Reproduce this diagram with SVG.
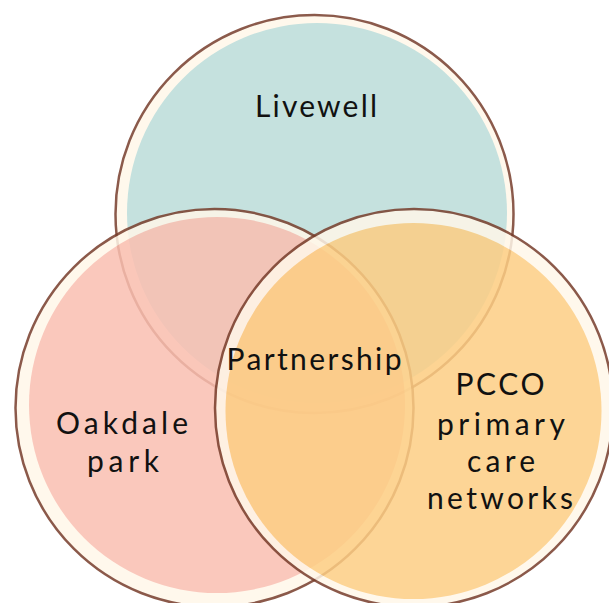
<svg xmlns="http://www.w3.org/2000/svg" width="609" height="603" viewBox="0 0 609 603">
  <style>
    .ring { fill: #fff7e9; stroke: #773d2b; stroke-width: 2.5; }
    .set { opacity: 0.85; }
    .label { font-family: "Lato", "Noto Sans", sans-serif; font-size: 30px; fill: #111; }
  </style>
  <rect width="609" height="603" fill="#ffffff"/>
  <g id="connectors"/>
  <!-- Livewell (top) -->
  <g id="livewell">
    <circle cx="314.5" cy="214" r="199" fill="#fff8ec" stroke="#8b5a4b" stroke-width="2.5"/>
    <circle cx="317" cy="213" r="190" fill="#c5e1de"/>
  </g>
  <!-- Oakdale park (lower left) -->
  <g id="oakdale" class="set">
    <circle class="ring" cx="214.5" cy="408" r="199"/>
    <circle cx="217" cy="405" r="188" fill="#fabfb1"/>
  </g>
  <!-- PCCO primary care networks (lower right) -->
  <g id="pcco" class="set">
    <circle class="ring" cx="414" cy="408" r="199"/>
    <circle cx="413.5" cy="411" r="188" fill="#fdce84"/>
  </g>
  <!-- Labels -->
  <g id="labels">
    <text class="label" x="316" y="117" text-anchor="middle" textLength="122" lengthAdjust="spacing">Livewell</text>
    <text class="label" x="314" y="370" text-anchor="middle" textLength="175" lengthAdjust="spacing">Partnership</text>
    <text class="label" x="122" y="434" text-anchor="middle" textLength="132" lengthAdjust="spacing">Oakdale</text>
    <text class="label" x="123" y="472" text-anchor="middle" textLength="72" lengthAdjust="spacing">park</text>
    <text class="label" x="500" y="395" text-anchor="middle" textLength="89" lengthAdjust="spacing">PCCO</text>
    <text class="label" x="501" y="435" text-anchor="middle" textLength="128" lengthAdjust="spacing">primary</text>
    <text class="label" x="501" y="472" text-anchor="middle" textLength="68" lengthAdjust="spacing">care</text>
    <text class="label" x="500" y="509" text-anchor="middle" textLength="146" lengthAdjust="spacing">networks</text>
  </g>
</svg>
